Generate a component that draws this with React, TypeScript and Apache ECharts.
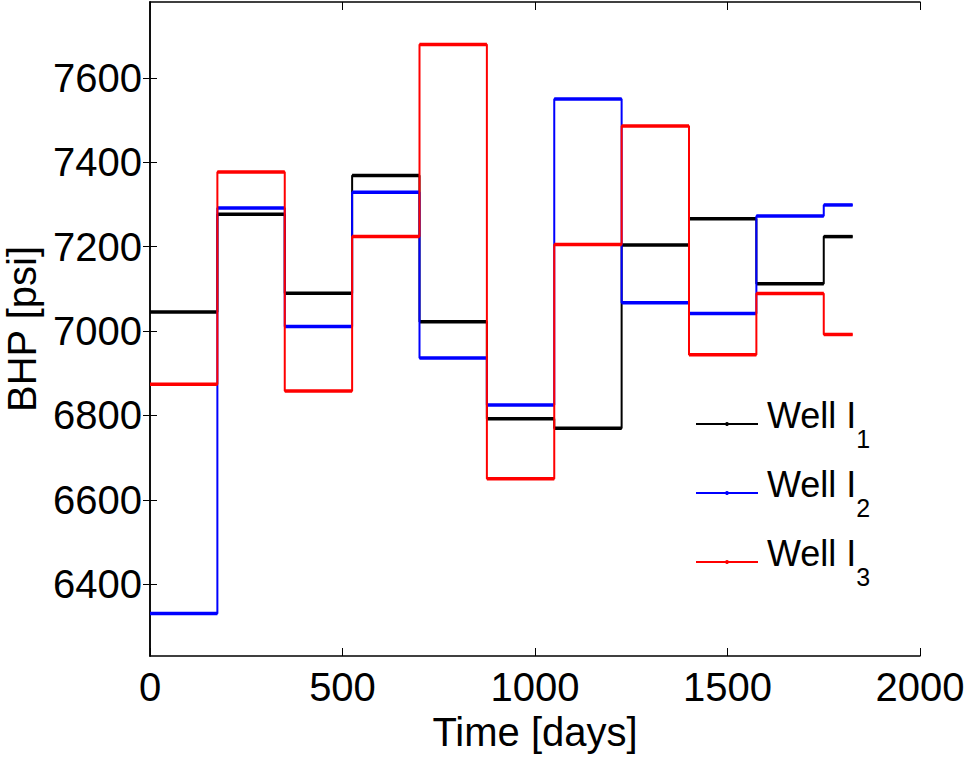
import React, { useEffect, useRef } from "react";
import * as echarts from "echarts";

// Control-step boundaries (days); the last entry closes the final step.
const stepDays = [0, 175, 350, 525, 700, 875, 1050, 1225, 1400, 1575, 1750, 1825];

// Bottom-hole pressure per control step [psi]
const wellI1 = [7045, 7277, 7090, 7369, 7022, 6792, 6770, 7204, 7266, 7112, 7224];
const wellI2 = [6331, 7292, 7011, 7329, 6936, 6825, 7550, 7067, 7042, 7273, 7299];
const wellI3 = [6874, 7377, 6858, 7224, 7679, 6650, 7205, 7486, 6944, 7089, 6992];

const wellNames = ["Well I1", "Well I2", "Well I3"];
const wellSubscripts = ["1", "2", "3"];
const wellColors = ["#000000", "#0000ff", "#ff0000"];

const xTicks = [0, 500, 1000, 1500, 2000];
const yTicks = [6400, 6600, 6800, 7000, 7200, 7400, 7600];

const FONT = "'Liberation Sans', Arial, Helvetica, sans-serif";

function stepPoints(values: number[]) {
  const pts = values.map((v, i) => [stepDays[i], v]);
  pts.push([stepDays[stepDays.length - 1], values[values.length - 1]]);
  return pts;
}

function segments(values: number[]) {
  return values.map((v, i) => [stepDays[i], stepDays[i + 1], v]);
}

const plain = (v: number) => String(v);

export default function App() {
  const ref = useRef<HTMLDivElement>(null);

  useEffect(() => {
    if (!ref.current) return;
    const chart = echarts.init(ref.current, undefined, { renderer: "svg" });
    const wells = [wellI1, wellI2, wellI3];

    const stepSeries = wells.map((vals, k) => ({
      name: wellNames[k],
      type: "line",
      step: "end",
      data: stepPoints(vals),
      showSymbol: false,
      symbol: "circle",
      lineStyle: { color: wellColors[k], width: 2 },
      itemStyle: { color: wellColors[k] },
      z: 2 + k * 2,
    }));

    // Heavier strokes for the constant-pressure portions of each step
    const flatSeries = wells.map((vals, k) => ({
      type: "custom",
      data: segments(vals),
      encode: { x: [0, 1], y: 2 },
      clip: true,
      z: 3 + k * 2,
      renderItem: (params: any, api: any) => {
        const p1 = api.coord([api.value(0), api.value(2)]);
        const p2 = api.coord([api.value(1), api.value(2)]);
        return {
          type: "line",
          shape: { x1: p1[0], y1: p1[1], x2: p2[0], y2: p2[1] },
          style: { stroke: wellColors[k], lineWidth: 3.5, lineCap: "butt" },
        };
      },
    }));

    const axisLine = { show: true, lineStyle: { color: "#000", width: 1.5 } };

    chart.setOption({
      animation: false,
      backgroundColor: "#ffffff",
      textStyle: { fontFamily: FONT },
      grid: {
        left: 150,
        right: 60,
        top: 2,
        bottom: 113,
        containLabel: false,
        outerBoundsMode: "none",
      },
      xAxis: [
        {
          type: "value",
          position: "bottom",
          min: xTicks[0],
          max: xTicks[xTicks.length - 1],
          interval: 500,
          axisLine,
          axisTick: { show: true, inside: true, length: 8, lineStyle: { color: "#000" } },
          axisLabel: {
            color: "#000",
            fontSize: 40,
            fontFamily: FONT,
            margin: 11,
            formatter: plain,
          },
          splitLine: { show: false },
          name: "Time [days]",
          nameLocation: "middle",
          nameGap: 50,
          nameTextStyle: { color: "#000", fontSize: 40, fontFamily: FONT },
        },
        {
          type: "value",
          position: "top",
          min: xTicks[0],
          max: xTicks[xTicks.length - 1],
          interval: 500,
          axisLine,
          axisTick: { show: true, inside: true, length: 8, lineStyle: { color: "#000" } },
          axisLabel: { show: false },
          splitLine: { show: false },
        },
      ],
      yAxis: [
        {
          type: "value",
          position: "left",
          min: 6230,
          max: 7780,
          axisLine,
          axisTick: {
            show: true,
            inside: true,
            length: 7,
            customValues: yTicks,
            lineStyle: { color: "#000" },
          },
          axisLabel: {
            color: "#000",
            fontSize: 40,
            fontFamily: FONT,
            margin: 8,
            customValues: yTicks,
            formatter: plain,
          },
          splitLine: { show: false },
          name: "BHP [psi]",
          nameLocation: "middle",
          nameGap: 108,
          nameTextStyle: { color: "#000", fontSize: 40, fontFamily: FONT },
        },
        {
          type: "value",
          position: "right",
          min: 6230,
          max: 7780,
          axisLine,
          axisTick: {
            show: true,
            inside: true,
            length: 7,
            customValues: yTicks,
            lineStyle: { color: "#000" },
          },
          axisLabel: { show: false, customValues: yTicks },
          splitLine: { show: false },
        },
      ],
      legend: {
        data: wellNames,
        orient: "vertical",
        left: 695,
        top: 397,
        padding: 0,
        itemGap: 15,
        itemWidth: 62,
        itemHeight: 5,
        formatter: (name: string) => {
          const k = wellNames.indexOf(name);
          return `{m|Well I}{s|${wellSubscripts[k]}}{p| }`;
        },
        textStyle: {
          color: "#000",
          fontFamily: FONT,
          rich: {
            m: {
              fontSize: 36,
              lineHeight: 36,
              fontFamily: FONT,
              color: "#000",
              verticalAlign: "top",
              padding: [0, 0, 0, 4],
            },
            s: {
              fontSize: 25,
              lineHeight: 25,
              fontFamily: FONT,
              color: "#000",
              verticalAlign: "bottom",
            },
            p: {
              fontSize: 2,
              lineHeight: 54,
              verticalAlign: "bottom",
            },
          },
        },
      },
      series: [...stepSeries, ...flatSeries],
    });

    return () => chart.dispose();
  }, []);

  return (
    <div
      ref={ref}
      style={{ position: "fixed", left: 0, top: 0, width: 980, height: 769 }}
    />
  );
}
